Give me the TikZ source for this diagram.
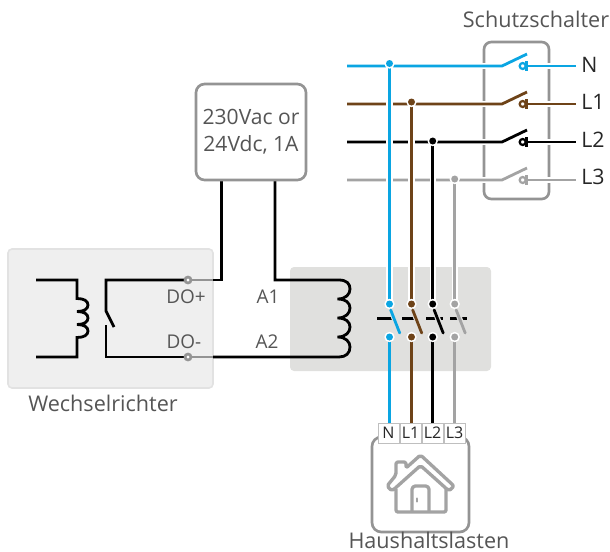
\documentclass[tikz,border=0pt]{standalone}
\usepackage{fontspec}
\setmainfont{Open Sans}
\definecolor{cblue}{HTML}{0AA5E2}
\definecolor{cbrown}{HTML}{6E4318}
\definecolor{cgray}{HTML}{A3A3A3}
\definecolor{cframe}{HTML}{949494}
\definecolor{ctext}{HTML}{555555}
\definecolor{cpanel}{HTML}{E0E0DE}
\definecolor{cpanelb}{HTML}{EFEFEF}
\definecolor{cpanelbb}{HTML}{E2E2E2}
\begin{document}
\begin{tikzpicture}[x=0.75pt,y=-0.75pt,line join=miter,
  wire/.style={line width=2.1pt},
  halo/.style={line width=4pt,white},
  frame/.style={draw=cframe,line width=2pt,rounded corners=5.5pt},
  lab/.style={font=\fontsize{14.2}{16}\selectfont,text=ctext,inner sep=0pt},
  big/.style={font=\fontsize{16.2}{18}\selectfont,text=ctext,inner sep=0pt},
  term/.style={font=\fontsize{16}{18}\selectfont,text=black!85,inner sep=0pt,anchor=west},
  tag/.style={draw=black!25,line width=0.5pt,fill=white,minimum width=15.5pt,minimum height=15pt,inner sep=0pt,font=\fontsize{12}{14}\selectfont,text=black!85}]
\useasboundingbox (0,0) rectangle (610,551);
% panels
\fill[cpanelb,draw=cpanelbb,line width=1.2pt,rounded corners=3pt] (8,249) rectangle (213,388);
\fill[cpanel,rounded corners=3pt] (290,267) rectangle (491,371);
% Schutzschalter frame
\draw[frame] (484,42) rectangle (549,199);
% horizontal feeders + breaker
\foreach \y/\c in {180/cgray,142/black,104/cbrown,66/cblue}{
  \draw[halo] (347,\y) -- (502,\y) (527,\y) -- (576,\y);
  \draw[wire,\c] (347,\y) -- (502,\y) -- (527,\y-12);
  \draw[wire,\c] (526.5,\y) -- (576,\y);
  \draw[\c,line width=2pt] (526.5,\y-5) -- (526.5,\y+5);
  \draw[\c,line width=1.7pt] (522.7,\y) circle[radius=3];
}
% vertical wires
\foreach \x/\y/\c in {454.7/179/cgray,432.7/141/black,411.5/102/cbrown,389.5/63.5/cblue}{
  \draw[line width=4.6pt,white] (\x,\y) -- (\x,304);
  \draw[wire,\c] (\x,\y) -- (\x,304);
  \draw[wire,\c] (\x,337) -- (\x,425);
  \fill[white] (\x,\y) circle[radius=5.2];
  \fill[\c] (\x,\y) circle[radius=3.5];
  \fill[white] (\x,304) circle[radius=5.2];
  \fill[\c] (\x,304) circle[radius=3.5];
  \fill[white] (\x,337) circle[radius=5.2];
  \fill[\c] (\x,337) circle[radius=3.5];
}
% contactor
\draw[wire,black] (377,318.7) -- (392,318.7) (402,318.7) -- (417,318.7) (426,318.7) -- (443,318.7) (450,318.7) -- (467,318.7);
\foreach \x/\c in {389.5/cblue,411.5/cbrown,433/black,455/cgray}{
  \draw[line width=4pt,cpanel] (\x+1.5,310) -- (\x+10.5,334);
  \draw[wire,\c,line cap=round] (\x+1.2,310) -- (\x+10.2,333);
}
% control wires
\draw[wire] (221.5,180) -- (221.5,280) -- (213,280);
\draw[wire] (275,180) -- (275,280) -- (339,280)
  .. controls (347,280) and (350,284) .. (350,289)
  .. controls (350,294) and (346,299) .. (337.5,299)
  .. controls (346,299) and (350,303) .. (350,308)
  .. controls (350,313) and (346,318) .. (337.5,318)
  .. controls (346,318) and (350,322) .. (350,327)
  .. controls (350,332) and (346,337) .. (337.5,337)
  .. controls (346,337) and (350,342) .. (350,347)
  .. controls (350,353) and (346,357) .. (339,357) -- (213,357);
% inverter relay
\draw[wire] (36,280) -- (77,280) -- (77,298.5)
  .. controls (84,298.5) and (88,301) .. (88,305)
  .. controls (88,309) and (84,311.5) .. (77,311.5)
  .. controls (84,311.5) and (88,314) .. (88,318)
  .. controls (88,322) and (84,324.5) .. (77,324.5)
  .. controls (84,324.5) and (88,327) .. (88,331)
  .. controls (88,335) and (84,337.5) .. (77,337.5)
  -- (77,357) -- (36,357);
\draw[wire] (187,280) -- (106,280) -- (106,311) -- (114,327);
\draw[wire] (106,325) -- (106,357) -- (187,357);
\draw[cframe,line width=2.1pt] (188,280) -- (213,280) (188,357) -- (213,357);
\foreach \y in {280,357}{\draw[cframe,line width=2pt,fill=white] (188,\y) circle[radius=3];}
% supply box
\node[draw=cframe,line width=2pt,rounded corners=6.5pt,fill=white,minimum width=82.5pt,minimum height=72pt,inner sep=0pt,align=center,font=\fontsize{15.8}{20.5}\selectfont,text=ctext] (sup) at (251,132) {230Vac or\\24Vdc, 1A};
% load box
\draw[frame,rounded corners=7pt] (372,437) rectangle (469,532);
\node[tag] (tN) at (388.5,433) {N};
\node[tag] (t1) at (410.5,433) {L1};
\node[tag] (t2) at (432.5,433) {L2};
\node[tag] (t3) at (454.5,433) {L3};
% house
\draw[cgray,line width=2.5pt,line join=round,line cap=round,rounded corners=1.5pt]
  (396,475) -- (396,462) -- (406,462) -- (406,468) -- (420.5,455) -- (454,486) -- (449,491) -- (420.5,465.5) -- (392,491) -- (387,486) -- (396,475) -- cycle;
\draw[cgray,line width=2.5pt,line join=round,rounded corners=1.5pt] (396,489) -- (396,512) -- (446,512) -- (446,489);
\draw[cgray,line width=2.5pt,line join=round,rounded corners=2.5pt] (412,512) -- (412,486) -- (429,486) -- (429,512);
\draw[cgray,line width=1.6pt,line cap=round] (417,498.5) -- (417,501.5);
% labels
\node[lab] (do1) at (186,297) {DO+};
\node[lab] (do2) at (184,342) {DO-};
\node[lab] (a1) at (268,297) {A1};
\node[lab] (a2) at (267,342) {A2};
\node[big,anchor=base] (inv) at (103,411.5) {Wechselrichter};
\node[big,anchor=base] (sch) at (536,27) {Schutzschalter};
\node[big,anchor=base] (hh) at (429,548) {Haushaltslasten};
\node[term] (lN) at (581,65) {N};
\node[term] (lL1) at (581,102) {L1};
\node[term] (lL2) at (581,140) {L2};
\node[term] (lL3) at (581,177) {L3};
\end{tikzpicture}
\end{document}
